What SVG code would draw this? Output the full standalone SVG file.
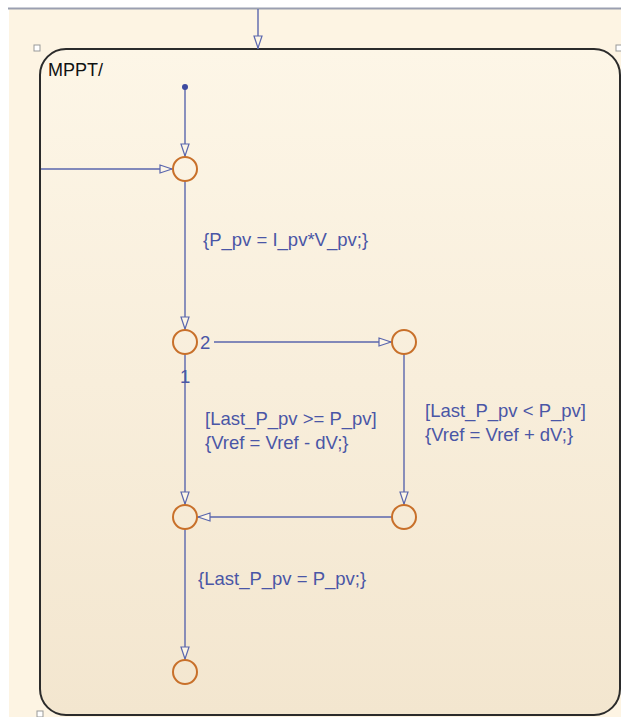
<svg xmlns="http://www.w3.org/2000/svg" width="621" height="717" viewBox="0 0 621 717">
<defs>
<linearGradient id="bg" x1="0" y1="0" x2="0" y2="1">
<stop offset="0" stop-color="#fdf6e7"/>
<stop offset="1" stop-color="#f3e6cf"/>
</linearGradient>
<marker id="arr" viewBox="0 0 14 10" refX="14" refY="5" markerWidth="14" markerHeight="10" markerUnits="userSpaceOnUse" orient="auto">
<path d="M1,1 L13,5 L1,9 Z" fill="#fdf6e7" stroke="#5a66ad" stroke-width="1.2"/>
</marker>
<style>
.c{fill:none;stroke:#5a66ad;stroke-width:1.4}
.s{fill:none;stroke:#c8702a;stroke-width:2}
.t{font-family:"Liberation Sans",Arial,sans-serif;font-size:18.5px;fill:#4a56a6}
.h{fill:#fff;stroke:#999;stroke-width:1}
</style>
</defs>
<rect x="0" y="0" width="621" height="717" fill="#fff"/>
<rect x="9" y="9" width="612" height="708" fill="#fdf4e3"/>
<line x1="8" y1="8.5" x2="621" y2="8.5" stroke="#9a9fb0" stroke-width="2"/>
<g id="mppt">
<rect x="40" y="49" width="580" height="666" rx="26" ry="26" fill="url(#bg)" stroke="#2b2b2b" stroke-width="2"/>
<text x="48" y="76" style="font-family:'Liberation Sans',Arial,sans-serif;font-size:18px;fill:#111">MPPT/</text>
<rect class="h" x="34" y="45" width="6" height="6"/>
<rect class="h" x="616" y="45" width="6" height="6"/>
<rect class="h" x="37" y="711" width="6" height="6"/>
</g>
<g id="connectors">
<line class="c" x1="258" y1="9" x2="258" y2="49" marker-end="url(#arr)"/>
<line class="c" x1="185" y1="87" x2="185" y2="157" marker-end="url(#arr)"/>
<line class="c" x1="41" y1="169" x2="173" y2="169" marker-end="url(#arr)"/>
<line class="c" x1="185" y1="181" x2="185" y2="330" marker-end="url(#arr)"/>
<line class="c" x1="214" y1="342" x2="392" y2="342" marker-end="url(#arr)"/>
<line class="c" x1="185" y1="354" x2="185" y2="505" marker-end="url(#arr)"/>
<line class="c" x1="404" y1="354" x2="404" y2="505" marker-end="url(#arr)"/>
<line class="c" x1="392" y1="517" x2="197" y2="517" marker-end="url(#arr)"/>
<line class="c" x1="185" y1="529" x2="185" y2="660" marker-end="url(#arr)"/>
<circle cx="185" cy="87" r="3" fill="#3e4ba0"/>
<text class="t" x="203" y="246">{P_pv = I_pv*V_pv;}</text>
<text class="t" x="200" y="349">2</text>
<text class="t" x="180" y="383">1</text>
<text class="t" x="205" y="425">[Last_P_pv &gt;= P_pv]</text>
<text class="t" x="205" y="449">{Vref = Vref - dV;}</text>
<text class="t" x="425" y="417">[Last_P_pv &lt; P_pv]</text>
<text class="t" x="425" y="441">{Vref = Vref + dV;}</text>
<text class="t" x="198" y="585">{Last_P_pv = P_pv;}</text>
</g>
<g id="j1"><circle class="s" cx="185" cy="169" r="12"/></g>
<g id="j2"><circle class="s" cx="185" cy="342" r="12"/></g>
<g id="j3"><circle class="s" cx="404" cy="342" r="12"/></g>
<g id="j4"><circle class="s" cx="185" cy="517" r="12"/></g>
<g id="j5"><circle class="s" cx="404" cy="517" r="12"/></g>
<g id="j6"><circle class="s" cx="185" cy="672" r="12"/></g>
</svg>
